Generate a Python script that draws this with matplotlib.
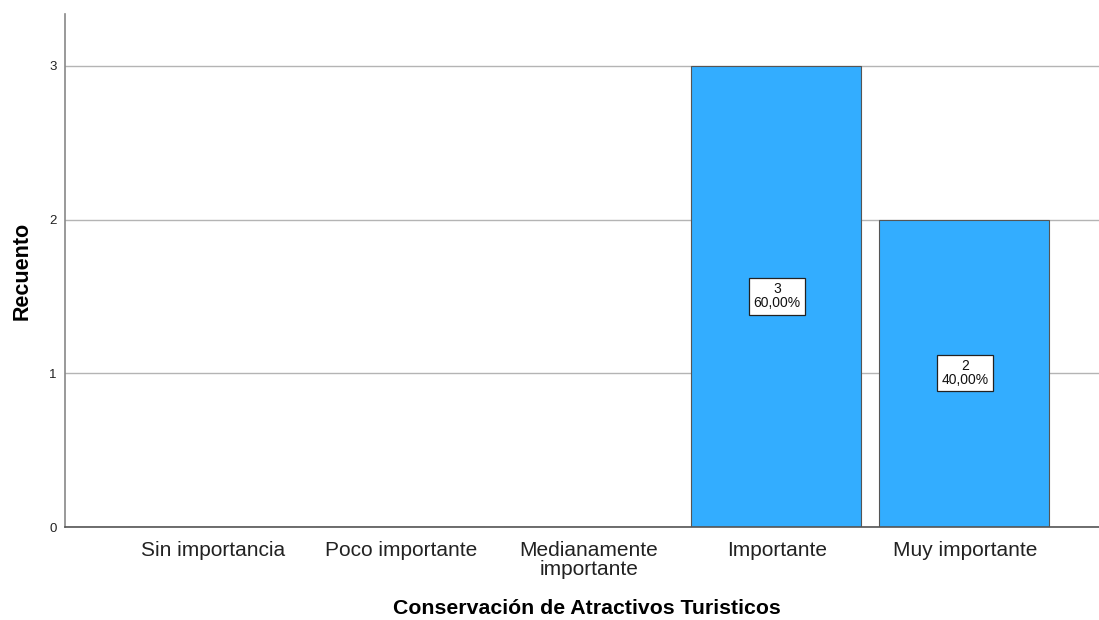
import matplotlib
matplotlib.use("Agg")
import matplotlib.pyplot as plt
import numpy as np

categories = ["Sin importancia", "Poco importante", "Medianamente\nimportante", "Importante", "Muy importante"]
counts = [0, 0, 0, 3, 2]
percents = ["0,00%", "0,00%", "0,00%", "60,00%", "40,00%"]
yticks = [0, 1, 2, 3]

plt.rcParams['font.family'] = ['Liberation Sans', 'DejaVu Sans']

fig = plt.figure(figsize=(10.99, 6.2), dpi=100)
ax = fig.add_axes([65/1099, 1 - 527/620, 1 - 65/1099, (527 - 14)/620])

x = np.arange(len(categories))
ax.set_axisbelow(True)
ax.grid(axis='y', color='#b4b4b4', linewidth=1.0)
bars = ax.bar(x - 0.005, counts, width=0.9, color='#33adff', edgecolor='#555555', linewidth=0.8, zorder=2)

for xi, c, p in zip(x, counts, percents):
    if c > 0:
        ax.text(xi, c / 2, f"{c}\n{p}", ha='center', va='center', fontsize=10,
                linespacing=1.0, zorder=4, color='#111111',
                bbox=dict(boxstyle='square,pad=0.3', facecolor='white', edgecolor='#222222', linewidth=0.9))

ax.set_xlim(-0.787, 4.713)
ax.set_ylim(0, 3.338)
ax.set_yticks(yticks)
ax.set_yticklabels([str(v) for v in yticks], fontsize=9.5, color='#222222')
ax.set_xticks(x)
ax.set_xticklabels(categories, fontsize=15, color='#222222', linespacing=1.0)
ax.tick_params(axis='both', length=0)
ax.tick_params(axis='x', pad=10)
ax.tick_params(axis='y', pad=6)

for s in ['top', 'right']:
    ax.spines[s].set_visible(False)
ax.spines['left'].set_color('#888888')
ax.spines['bottom'].set_color('#555555')
ax.spines['left'].set_linewidth(1.2)
ax.spines['bottom'].set_linewidth(1.2)

ax.set_ylabel("Recuento", fontsize=15.5, fontweight='bold', labelpad=12)
ax.set_xlabel("Conservación de Atractivos Turisticos", fontsize=15.3, fontweight='bold')
ax.xaxis.set_label_coords(0.505, -0.14)

fig.savefig("out.png", dpi=100)
